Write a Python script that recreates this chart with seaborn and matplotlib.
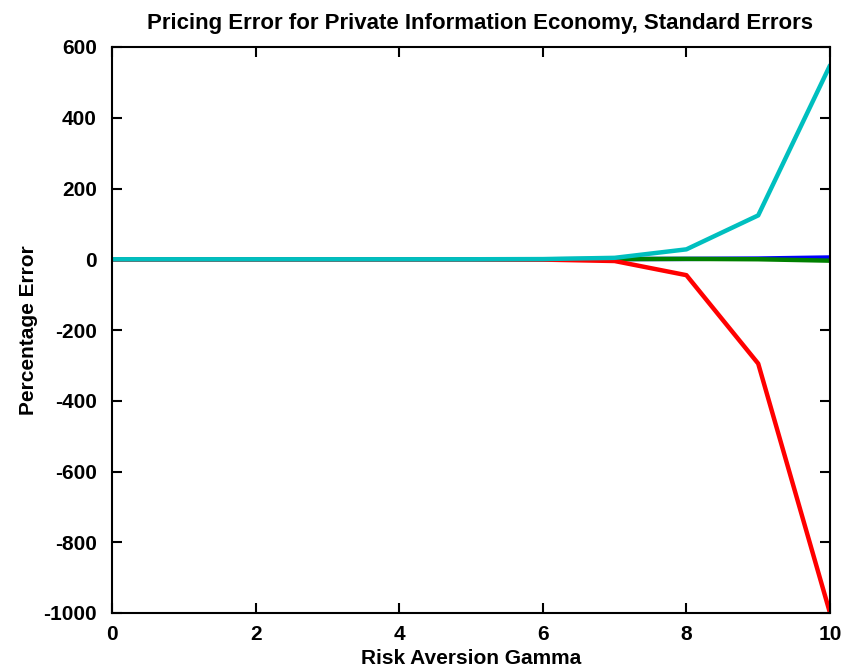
import matplotlib
matplotlib.use("Agg")
import matplotlib.pyplot as plt
import numpy as np
import pandas as pd
import seaborn as sns

# Risk aversion grid and percentage pricing errors for each series
gamma = [0, 1, 2, 3, 4, 5, 6, 7, 8, 9, 10]
err_blue = [0, 0, 0, 0, 0, 0, 0, 0.5, 1, 2, 5]
err_green = [0, 0, 0, 0, 0, 0, 0, 0.5, 1, 0, -4]
err_red = [0, 0, 0, 0, 0, 0, -1, -5, -45, -295, -1000]
err_cyan = [0, 0, 0, 0, 0, 0, 0.5, 4, 28, 124, 548]

series_names = ["s1", "s2", "s3", "s4"]
series_values = [err_blue, err_green, err_red, err_cyan]
palette = ["#0000ff", "#008000", "#ff0000", "#00bfbf"]

df = pd.concat(
    [pd.DataFrame({"gamma": gamma, "error": vals, "series": name})
     for name, vals in zip(series_names, series_values)],
    ignore_index=True,
)

sns.set_theme(style="white")
plt.rcParams["font.family"] = ["Liberation Sans", "DejaVu Sans"]
plt.rcParams["font.weight"] = "bold"
plt.rcParams["axes.unicode_minus"] = False
plt.rcParams["text.color"] = "black"
plt.rcParams["axes.labelcolor"] = "black"

fig = plt.figure(figsize=(8.47, 6.72), dpi=100)
ax = fig.add_axes([112 / 847, 1 - 613 / 672, (830 - 112) / 847, (613 - 47) / 672])

sns.lineplot(data=df, x="gamma", y="error", hue="series", palette=palette,
             hue_order=series_names, linewidth=3.2, legend=False, ax=ax,
             estimator=None, sort=False)

ax.set_xlim(0, 10)
ax.set_ylim(-1000, 600)
ax.set_xticks(np.arange(0, 11, 2))
ax.set_yticks(np.arange(-1000, 601, 200))

for sp in ax.spines.values():
    sp.set_visible(True)
    sp.set_color("black")
    sp.set_linewidth(1.5)

ax.tick_params(direction="in", length=7, width=1.5, colors="black",
               top=True, right=True, bottom=True, left=True,
               labelsize=15)
ax.tick_params(axis="y", pad=11)
ax.tick_params(axis="x", pad=9)
for lbl in ax.get_xticklabels() + ax.get_yticklabels():
    lbl.set_fontweight("bold")

ax.set_title("Pricing Error for Private Information Economy, Standard Errors",
             fontsize=16, fontweight="bold", pad=13, color="black", x=0.513)
ax.set_xlabel("Risk Aversion Gamma", fontsize=15, fontweight="bold", labelpad=3)
ax.set_ylabel("Percentage Error", fontsize=15, fontweight="bold", labelpad=4)

fig.savefig("out.png", dpi=100, facecolor="white")
